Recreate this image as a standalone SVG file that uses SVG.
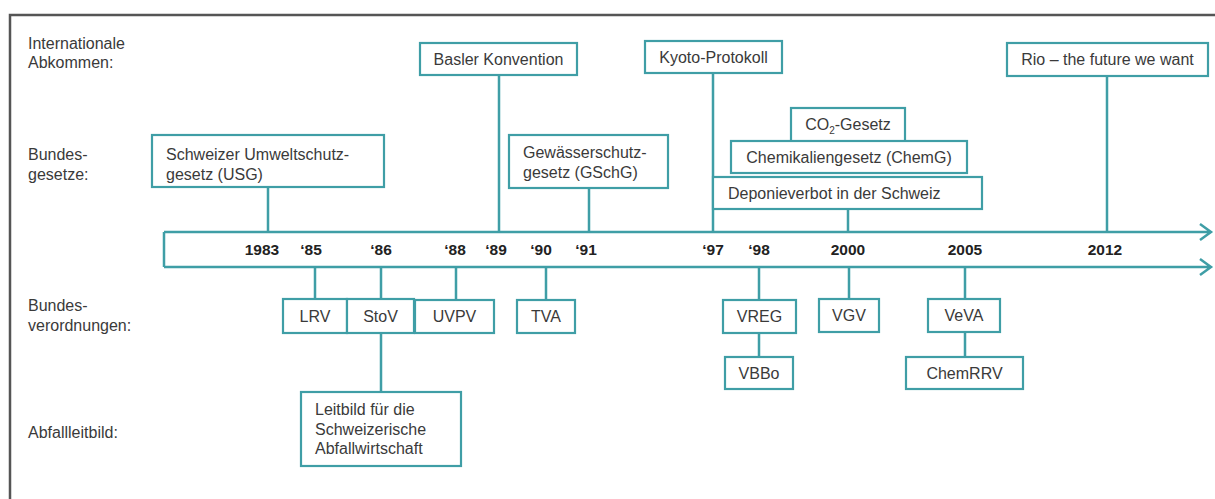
<svg xmlns="http://www.w3.org/2000/svg" width="1215" height="499" viewBox="0 0 1215 499">
<style>
.bx{fill:#fff;stroke:#3f9ea6;stroke-width:2.2}
.ln{stroke:#3f9ea6;stroke-width:2.5;fill:none}
.t{font-family:"Liberation Sans",Arial,sans-serif;font-size:16px;fill:#3a3a3a}
.c{text-anchor:middle}
.y{font-family:"Liberation Sans",Arial,sans-serif;font-size:15.5px;font-weight:bold;fill:#222;text-anchor:middle}
</style>
<rect width="1215" height="499" fill="#fff"/>
<path d="M10,499 V15 H1215" fill="none" stroke="#555" stroke-width="2.5"/>
<g id="labels">
<text class="t" x="28" y="49">Internationale</text>
<text class="t" x="28" y="68">Abkommen:</text>
<text class="t" x="28" y="160">Bundes-</text>
<text class="t" x="28" y="180">gesetze:</text>
<text class="t" x="28" y="311">Bundes-</text>
<text class="t" x="28" y="331">verordnungen:</text>
<text class="t" x="28" y="438">Abfallleitbild:</text>
</g>
<g id="connectors">
<path class="ln" d="M164,232 V267 M164,232 H1210 M164,267 H1210 M1200,224 L1211,232 L1200,240 M1200,259 L1211,267 L1200,275"/>
<path class="ln" d="M268,187 V232 M499,75 V232 M589,188 V232 M713,73 V232 M848,209 V232 M1107,76 V232"/>
<path class="ln" d="M315,267 V299 M381,267 V392 M456,267 V300 M546,267 V300 M759,267 V357 M849,267 V299 M965,267 V357"/>
</g>
<g id="years">
<text class="y" x="262" y="254.5">1983</text>
<text class="y" x="311" y="254.5">‘85</text>
<text class="y" x="381" y="254.5">‘86</text>
<text class="y" x="455" y="254.5">‘88</text>
<text class="y" x="496" y="254.5">‘89</text>
<text class="y" x="541" y="254.5">‘90</text>
<text class="y" x="586" y="254.5">‘91</text>
<text class="y" x="713" y="254.5">‘97</text>
<text class="y" x="759" y="254.5">‘98</text>
<text class="y" x="848" y="254.5">2000</text>
<text class="y" x="965" y="254.5">2005</text>
<text class="y" x="1105" y="254.5">2012</text>
</g>
<g id="basel"><rect class="bx" x="420" y="43" width="157" height="32"/><text class="t c" x="498.5" y="64.5">Basler Konvention</text></g>
<g id="kyoto"><rect class="bx" x="645" y="41" width="137" height="32"/><text class="t c" x="713.5" y="62.5">Kyoto-Protokoll</text></g>
<g id="rio"><rect class="bx" x="1007" y="43" width="201" height="33"/><text class="t c" x="1107.5" y="65">Rio – the future we want</text></g>
<g id="usg"><rect class="bx" x="152" y="135" width="232" height="52"/><text class="t" x="166" y="160">Schweizer Umweltschutz-</text><text class="t" x="166" y="180">gesetz (USG)</text></g>
<g id="gschg"><rect class="bx" x="509" y="135" width="159" height="53"/><text class="t" x="523" y="158">Gewässerschutz-</text><text class="t" x="523" y="178">gesetz (GSchG)</text></g>
<g id="co2"><rect class="bx" x="791" y="108" width="114" height="34"/><text class="t c" x="848" y="130">CO<tspan font-size="10" dy="4">2</tspan><tspan dy="-4">-Gesetz</tspan></text></g>
<g id="chemg"><rect class="bx" x="731" y="141" width="236" height="32"/><text class="t c" x="849" y="162.5">Chemikaliengesetz (ChemG)</text></g>
<g id="deponie"><rect class="bx" x="713" y="177" width="269" height="32"/><text class="t" x="728" y="198.5">Deponieverbot in der Schweiz</text></g>
<g id="lrv"><rect class="bx" x="283" y="299" width="64" height="34"/><text class="t c" x="315" y="321.5">LRV</text></g>
<g id="stov"><rect class="bx" x="347" y="299" width="67" height="34"/><text class="t c" x="380.5" y="321.5">StoV</text></g>
<g id="uvpv"><rect class="bx" x="415" y="300" width="79" height="33"/><text class="t c" x="454.5" y="322">UVPV</text></g>
<g id="tva"><rect class="bx" x="517" y="300" width="58" height="33"/><text class="t c" x="546" y="322">TVA</text></g>
<g id="vreg"><rect class="bx" x="723" y="300" width="73" height="33"/><text class="t c" x="759.5" y="322">VREG</text></g>
<g id="vbbo"><rect class="bx" x="725" y="357" width="68" height="32"/><text class="t c" x="759" y="378.5">VBBo</text></g>
<g id="vgv"><rect class="bx" x="819" y="299" width="60" height="33"/><text class="t c" x="849" y="321">VGV</text></g>
<g id="veva"><rect class="bx" x="928" y="299" width="72" height="33"/><text class="t c" x="964" y="321">VeVA</text></g>
<g id="chemrrv"><rect class="bx" x="906" y="357" width="117" height="32"/><text class="t c" x="964.5" y="378.5">ChemRRV</text></g>
<g id="leitbild"><rect class="bx" x="301" y="392" width="160" height="74"/><text class="t" x="315" y="415">Leitbild für die</text><text class="t" x="315" y="434.5">Schweizerische</text><text class="t" x="315" y="454">Abfallwirtschaft</text></g>
</svg>
